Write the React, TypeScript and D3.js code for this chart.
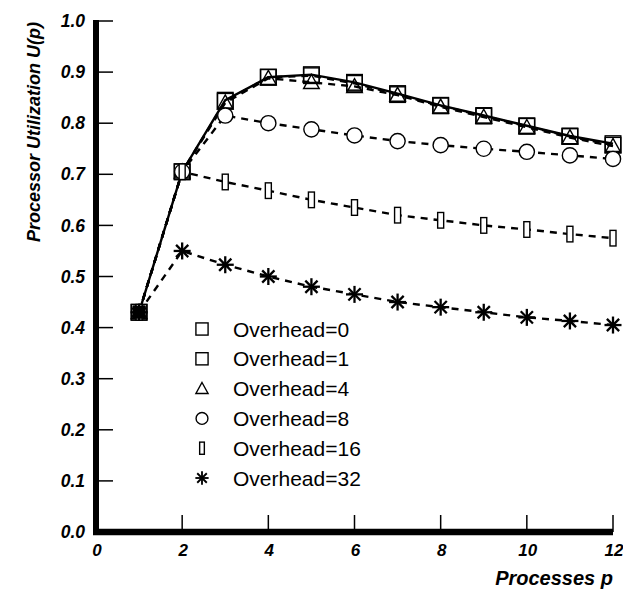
import React from "react";
import * as d3 from "d3";

const processes = [1, 2, 3, 4, 5, 6, 7, 8, 9, 10, 11, 12];
const overhead0 = [0.43, 0.705, 0.845, 0.89, 0.895, 0.88, 0.858, 0.835, 0.815, 0.795, 0.775, 0.76];
const overhead1 = [0.43, 0.705, 0.843, 0.89, 0.893, 0.878, 0.856, 0.834, 0.814, 0.794, 0.774, 0.757];
const overhead4 = [0.43, 0.705, 0.84, 0.888, 0.88, 0.872, 0.855, 0.832, 0.812, 0.792, 0.772, 0.755];
const overhead8 = [0.43, 0.705, 0.815, 0.8, 0.788, 0.776, 0.765, 0.757, 0.75, 0.744, 0.737, 0.73];
const overhead16 = [0.43, 0.705, 0.685, 0.668, 0.65, 0.635, 0.62, 0.61, 0.6, 0.592, 0.583, 0.575];
const overhead32 = [0.43, 0.55, 0.523, 0.5, 0.48, 0.465, 0.45, 0.44, 0.43, 0.42, 0.413, 0.405];
const seriesLabels = ["Overhead=0", "Overhead=1", "Overhead=4", "Overhead=8", "Overhead=16", "Overhead=32"];
const xTicks = [0, 2, 4, 6, 8, 10, 12];
const yTicks = [0, 0.1, 0.2, 0.3, 0.4, 0.5, 0.6, 0.7, 0.8, 0.9, 1.0];

const W = 623, H = 591;
const FONT = "'Liberation Sans', Arial, Helvetica, sans-serif";

type Shape = "square" | "square2" | "triangle" | "circle" | "rect" | "star";
const series = [
  { label: seriesLabels[0], values: overhead0, shape: "square" as Shape, dashed: false },
  { label: seriesLabels[1], values: overhead1, shape: "square2" as Shape, dashed: true },
  { label: seriesLabels[2], values: overhead4, shape: "triangle" as Shape, dashed: true },
  { label: seriesLabels[3], values: overhead8, shape: "circle" as Shape, dashed: true },
  { label: seriesLabels[4], values: overhead16, shape: "rect" as Shape, dashed: true },
  { label: seriesLabels[5], values: overhead32, shape: "star" as Shape, dashed: true },
];

function Marker({ shape, x, y, s = 1 }: { shape: Shape; x: number; y: number; s?: number }) {
  const common = { fill: "white", stroke: "black", strokeWidth: 1.4 };
  switch (shape) {
    case "square":
    case "square2": {
      const h = 7.8 * s;
      return <rect x={x - h} y={y - h} width={2 * h} height={2 * h} {...common} fillOpacity={0} />;
    }
    case "triangle": {
      const h = 7.8 * s;
      return <path d={`M${x},${y - h}L${x + h},${y + h * 0.8}L${x - h},${y + h * 0.8}Z`} {...common} fillOpacity={0} />;
    }
    case "circle":
      return <circle cx={x} cy={y} r={7.6 * s} {...common} />;
    case "rect":
      return <rect x={x - 3 * s} y={y - 7.8 * s} width={6 * s} height={15.6 * s} {...common} />;
    case "star": {
      const r = 8.5 * s;
      const d = r * 0.72;
      return (
        <g stroke="black" strokeWidth={2.3 * Math.max(s, 0.8)}>
          <line x1={x - r} y1={y} x2={x + r} y2={y} />
          <line x1={x} y1={y - r} x2={x} y2={y + r} />
          <line x1={x - d} y1={y - d} x2={x + d} y2={y + d} />
          <line x1={x - d} y1={y + d} x2={x + d} y2={y - d} />
        </g>
      );
    }
  }
  return null;
}

export default function App() {
  const x = d3.scaleLinear().domain([0, 12]).range([96, 613]);
  const y = d3.scaleLinear().domain([0, 1]).range([532, 21]);
  const line = d3
    .line<number>()
    .x((_, i) => x(processes[i]))
    .y((v) => y(v));

  const legendX = 202;
  const legendY0 = 329;
  const legendStep = 29.8;

  return (
    <svg width={W} height={H} style={{ position: "absolute", left: 0, top: 0, background: "white" }} fontFamily={FONT}>
      <rect width={W} height={H} fill="white" />
      {series.map((s, i) => (
        <path
          key={"l" + i}
          d={line(s.values) || ""}
          fill="none"
          stroke="black"
          strokeWidth={2.4}
          strokeDasharray={s.dashed ? "7,6" : undefined}
        />
      ))}
      {series.map((s, i) => (
        <g key={"m" + i}>
          {s.values.map((v, j) => (
            <Marker key={j} shape={s.shape} x={x(processes[j])} y={y(v)} />
          ))}
        </g>
      ))}
      {/* dense overlap at p=1 reads as a dark block in the reference */}
      <rect
        x={x(processes[0]) - 6.5}
        y={y(overhead0[0]) - 6.5}
        width={13}
        height={13}
        fill="black"
      />
      {/* y axis */}
      <line x1={x(0)} y1={y(1) - 1} x2={x(0)} y2={y(0) + 3} stroke="black" strokeWidth={6} />
      {yTicks.map((t) => (
        <g key={"yt" + t}>
          <line x1={x(0)} x2={x(0) + 17} y1={y(t)} y2={y(t)} stroke="black" strokeWidth={1.5} />
          <text x={85} y={y(t)} dy="0.35em" textAnchor="end" fontSize={17.5} fontWeight="bold" fontStyle="italic">
            {t.toFixed(1)}
          </text>
        </g>
      ))}
      {/* x axis */}
      <line x1={x(0) - 3} y1={y(0)} x2={x(12)} y2={y(0)} stroke="black" strokeWidth={6.5} />
      {xTicks.map((t) => (
        <g key={"xt" + t}>
          {t > 0 && <line x1={x(t)} x2={x(t)} y1={y(0)} y2={y(0) - 17} stroke="black" strokeWidth={1.5} />}
          <text x={x(t) + 1} y={556} textAnchor="middle" fontSize={17} fontWeight="bold" fontStyle="italic">
            {t}
          </text>
        </g>
      ))}
      <text x={613} y={585} textAnchor="end" fontSize={20} fontWeight="bold" fontStyle="italic">
        Processes p
      </text>
      <text transform={`translate(40,22) rotate(-90)`} textAnchor="end" fontSize={18} fontWeight="bold" fontStyle="italic">
        Processor Utilization U(p)
      </text>
      {/* legend */}
      {series.map((s, i) => (
        <g key={"lg" + i}>
          <Marker shape={s.shape} x={legendX} y={legendY0 + i * legendStep} s={0.78} />
          <text x={233} y={legendY0 + i * legendStep} dy="0.36em" fontSize={21}>
            {s.label}
          </text>
        </g>
      ))}
    </svg>
  );
}
